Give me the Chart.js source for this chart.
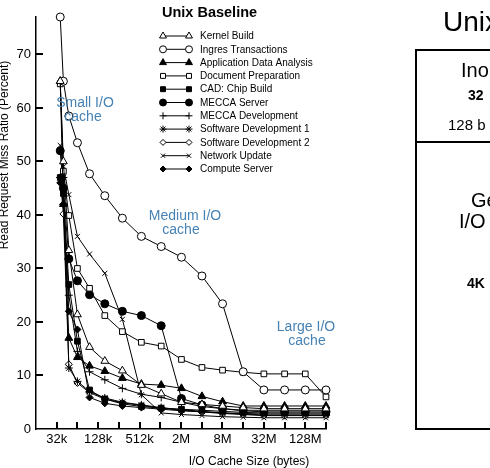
<!DOCTYPE html>
<html>
<head>
<meta charset="utf-8">
<script src="https://cdn.jsdelivr.net/npm/chart.js@4/dist/chart.umd.min.js"></script>
<style>
  html, body { margin: 0; padding: 0; background: #fff; }
  #wrap { position: relative; width: 490px; height: 468px; overflow: hidden; font-family: "Liberation Sans", Arial, sans-serif; }
  #chart { position: absolute; left: 0; top: 0; }
  .t { position: absolute; white-space: nowrap; color: #000; line-height: 1; }
  #box { position: absolute; left: 415px; top: 49px; width: 120px; height: 377px; border: 2px solid #000; }
  #divider { position: absolute; left: 415px; top: 141px; width: 120px; height: 2px; background: #000; }
</style>
</head>
<body>
<div id="wrap">
  <canvas id="chart" width="490" height="468"></canvas>
  <div class="t" style="left:443px; top:8px; font-size:28px;">Unix</div>
  <div id="box"></div>
  <div id="divider"></div>
  <div class="t" style="left:461px; top:60px; font-size:20px;">Ino</div>
  <div class="t" style="left:468px; top:88px; font-size:14px; font-weight:bold;">32</div>
  <div class="t" style="left:448px; top:117px; font-size:15px;">128 b</div>
  <div class="t" style="left:471px; top:190px; font-size:20px;">Ge</div>
  <div class="t" style="left:459px; top:211px; font-size:20px;">I/O</div>
  <div class="t" style="left:467px; top:276px; font-size:14px; font-weight:bold;">4K</div>
</div>
<script>
// cache sizes in KB (32k inode cache + I/O cache)
const sizes = [36, 40, 48, 64, 96, 160, 288, 544, 1056, 2080, 4128, 8224, 16416, 32800, 65568, 131104, 262176];

const kernelBuild   = [65, 50, 33.4, 21.4, 15.3, 12.7, 10.9, 8.2, 6.6, 5.0, 4.6, 4.3, 4.0, 3.8, 3.8, 3.8, 3.8];
const ingres        = [77, 65, 58.5, 53.5, 47.7, 43.6, 39.4, 36.0, 34.1, 32.1, 28.6, 23.4, 10.7, 7.3, 7.3, 7.3, 7.3];
const appData       = [65, 42, 17, 13.4, 11.8, 10.8, 9.5, 8.4, 8.2, 7.6, 6.1, 5.1, 4.3, 4.3, 4.3, 4.3, 4.3];
const docPrep       = [64.5, 48.2, 39.9, 30.0, 26.3, 21.2, 18.2, 16.2, 15.5, 13.0, 11.5, 11.0, 10.6, 10.3, 10.3, 10.3, 6.0];
const cadChip       = [47, 44, 27, 16.4, 7.3, 5.6, 4.7, 4.2, 3.9, 3.7, 3.5, 3.3, 3.1, 3.0, 3.0, 3.0, 3.0];
const meccaServer   = [52, 45, 31.8, 27.7, 25.1, 23.4, 22.0, 21.2, 19.3, 5.7, 4.5, 3.8, 3.4, 3.2, 3.2, 3.2, 3.2];
const meccaDev      = [47, 42, 25, 14.5, 10.7, 9.2, 7.6, 6.5, 5.9, 5.0, 4.2, 3.8, 3.5, 3.5, 3.5, 3.5, 3.5];
const softDev1      = [52, 47, 11.4, 8.9, 7.0, 5.8, 5.0, 4.5, 4.0, 3.6, 3.3, 3.0, 2.8, 2.6, 2.6, 2.6, 2.6];
const softDev2      = [47, 40.2, 12.1, 8.6, 6.8, 5.6, 4.9, 4.4, 3.9, 3.5, 3.2, 2.9, 2.7, 2.5, 2.5, 2.5, 2.5];
const networkUpdate = [53, 49, 43.8, 36.0, 32.7, 29.1, 20.5, 6.4, 3.0, 2.7, 2.5, 2.3, 2.2, 2.1, 2.1, 2.1, 2.1];
const computeServer = [46, 42, 22, 18.6, 5.9, 4.8, 4.3, 4.0, 3.7, 3.4, 3.2, 3.0, 2.9, 2.8, 2.8, 2.8, 2.8];

const xTicks = [16, 32, 64, 128, 256, 512, 1024, 2048, 4096, 8192, 16384, 32768, 65536, 131072, 262144];
const xLabels = {32: '32k', 128: '128k', 512: '512k', 2048: '2M', 8192: '8M', 32768: '32M', 131072: '128M'};
const yTicks = [0, 10, 20, 30, 40, 50, 60, 70];

const FONT = '"Liberation Sans", Arial, sans-serif';

function series(label, values, style, filled, radius) {
    return {
        label: label,
        data: values.map((v, i) => ({x: sizes[i], y: v})),
        borderColor: '#000',
        borderWidth: 1,
        pointStyle: style,
        pointRadius: radius,
        pointBorderWidth: 1,
        pointBackgroundColor: filled ? '#000' : '#fff',
        pointBorderColor: '#000',
        backgroundColor: filled ? '#000' : '#fff',
        fill: false,
        tension: 0,
        clip: false
    };
}

const datasets = [
    series('Kernel Build', kernelBuild, 'triangle', false, 4.5),
    series('Ingres Transactions', ingres, 'circle', false, 4),
    series('Application Data Analysis', appData, 'triangle', true, 4.5),
    series('Document Preparation', docPrep, 'rect', false, 4),
    series('CAD: Chip Build', cadChip, 'rect', true, 4),
    series('MECCA Server', meccaServer, 'circle', true, 4),
    series('MECCA Development', meccaDev, 'cross', false, 4),
    series('Software Development 1', softDev1, 'star', false, 4),
    series('Software Development 2', softDev2, 'rectRot', false, 3.5),
    series('Network Update', networkUpdate, 'crossRot', false, 3.5),
    series('Compute Server', computeServer, 'rectRot', true, 3.5)
];

// annotations, legend, axis titles and inward ticks
const extras = {
    id: 'extras',
    afterDraw(chart) {
        const ctx = chart.ctx;
        const xs = chart.scales.x, ys = chart.scales.y;
        const area = chart.chartArea;
        ctx.save();

        // inward ticks
        ctx.strokeStyle = '#000';
        ctx.lineWidth = 2;
        ctx.beginPath();
        xTicks.slice(1).forEach(v => {
            const px = Math.round(xs.getPixelForValue(v));
            ctx.moveTo(px, area.bottom);
            ctx.lineTo(px, area.bottom - 7);
        });
        yTicks.slice(1).forEach(v => {
            const py = Math.round(ys.getPixelForValue(v));
            ctx.moveTo(area.left, py);
            ctx.lineTo(area.left + 7, py);
        });
        ctx.stroke();

        // axis titles
        ctx.fillStyle = '#000';
        ctx.font = '12px ' + FONT;
        ctx.textAlign = 'center';
        ctx.textBaseline = 'alphabetic';
        ctx.fillText('I/O Cache Size (bytes)', 249, 465);
        ctx.save();
        ctx.translate(8, 155);
        ctx.rotate(-Math.PI / 2);
        ctx.fillText('Read Request Miss Ratio (Percent)', 0, 0);
        ctx.restore();

        // region notes
        ctx.fillStyle = '#4682b4';
        ctx.font = '14px ' + FONT;
        ctx.textBaseline = 'middle';
        ctx.fillText('Small I/O', 85, 103);
        ctx.fillText('cache', 83, 117);
        ctx.fillText('Medium I/O', 185, 216);
        ctx.fillText('cache', 181, 230);
        ctx.fillText('Large I/O', 306, 327);
        ctx.fillText('cache', 307, 341);

        // legend
        ctx.fillStyle = '#000';
        ctx.font = 'bold 14.5px ' + FONT;
        ctx.textAlign = 'left';
        ctx.textBaseline = 'alphabetic';
        ctx.fillText('Unix Baseline', 162, 17);
        ctx.font = '10px ' + FONT;
        ctx.textBaseline = 'middle';
        chart.data.datasets.forEach((ds, i) => {
            const y = 36 + i * 13.3;
            ctx.strokeStyle = '#000';
            ctx.lineWidth = 1;
            ctx.beginPath();
            ctx.moveTo(163, y);
            ctx.lineTo(189, y);
            ctx.stroke();
            [163, 189].forEach(px => {
                ctx.fillStyle = ds.pointBackgroundColor;
                ctx.strokeStyle = '#000';
                Chart.helpers.drawPoint(ctx, {pointStyle: ds.pointStyle, radius: ds.pointRadius - 0.5, borderWidth: 1, rotation: 0}, px, y);
            });
            ctx.fillStyle = '#000';
            ctx.fillText(ds.label, 200, y + 0.5);
        });
        ctx.restore();
    }
};

new Chart(document.getElementById('chart'), {
    type: 'line',
    data: { datasets: datasets },
    options: {
        responsive: false,
        animation: false,
        layout: { padding: { top: 17, right: 164, left: 0, bottom: 0 } },
        plugins: { legend: { display: false }, tooltip: { enabled: false } },
        scales: {
            x: {
                type: 'logarithmic',
                min: 16,
                max: 262144,
                afterBuildTicks: scale => { scale.ticks = xTicks.map(v => ({value: v})); },
                afterFit: scale => { scale.height = 39; },
                grid: { display: false, drawTicks: false },
                border: { display: true, color: '#000', width: 1.5 },
                ticks: {
                    autoSkip: false,
                    maxRotation: 0,
                    padding: 3,
                    color: '#000',
                    font: { family: FONT, size: 13 },
                    callback: v => xLabels[v] || ''
                }
            },
            y: {
                min: 0,
                max: 77,
                afterBuildTicks: scale => { scale.ticks = yTicks.map(v => ({value: v})); },
                afterFit: scale => { scale.width = 36; },
                grid: { display: false, drawTicks: false },
                border: { display: true, color: '#000', width: 1.5 },
                ticks: {
                    padding: 5,
                    color: '#000',
                    font: { family: FONT, size: 13 }
                }
            }
        }
    },
    plugins: [extras]
});
</script>
</body>
</html>
